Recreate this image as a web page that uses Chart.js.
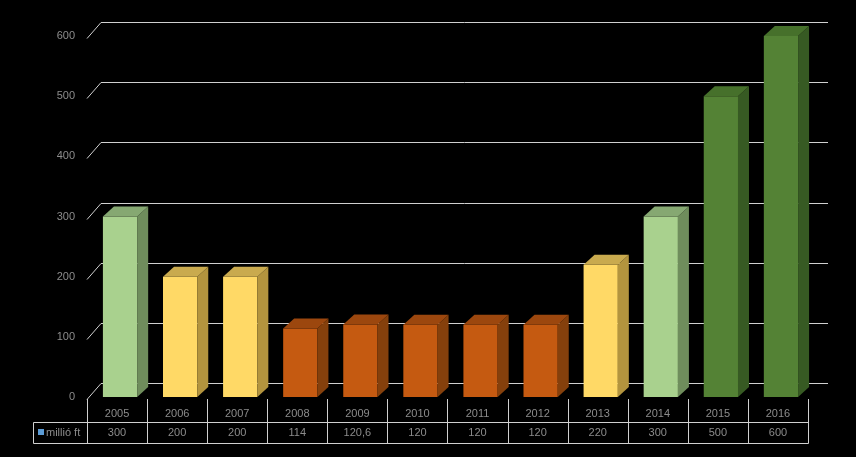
<!DOCTYPE html>
<html>
<head>
<meta charset="utf-8">
<script src="https://cdn.jsdelivr.net/npm/chart.js@4.4.1/dist/chart.umd.min.js"></script>
<style>
  html, body { margin: 0; padding: 0; background: #000; }
  #wrap { width: 856px; height: 457px; }
</style>
</head>
<body>
<div id="wrap"><canvas id="chart" width="856" height="457"></canvas></div>
<script>
// adatok
const years = ["2005", "2006", "2007", "2008", "2009", "2010", "2011", "2012", "2013", "2014", "2015", "2016"];
const values = [300, 200, 200, 114, 120.6, 120, 120, 120, 220, 300, 500, 600];
const seriesName = "millió ft";
const yTicks = [0, 100, 200, 300, 400, 500, 600];

// szín csoportok (front, top, side)
const palette = {
    light:  ["#a9d18e", "#86a872", "#6f8d5c"],
    yellow: ["#ffd966", "#c9aa4e", "#b3943e"],
    orange: ["#c55a11", "#9c470e", "#85400c"],
    dark:   ["#548235", "#46702b", "#375a23"]
};
const groups = ["light", "yellow", "yellow", "orange", "orange", "orange", "orange", "orange", "yellow", "light", "dark", "dark"];

const DX = 11, DY = 10;       // bar depth
const GX = 14, GY = 14;       // back wall offset
const SHIFT = 3;              // bars sit a bit right of the table cells
const textColor = "#8c8c8c";
const lineColor = "#d0d0d0";
const font = "11px 'Liberation Sans', Arial, sans-serif";

const backGrid = {
    id: "backGrid",
    beforeDatasetsDraw(chart) {
        const ctx = chart.ctx, y = chart.scales.y, a = chart.chartArea;
        ctx.save();
        ctx.strokeStyle = lineColor;
        ctx.lineWidth = 1;
        yTicks.forEach(v => {
            const py = Math.round(y.getPixelForValue(v)) + 0.5;
            ctx.beginPath();
            ctx.moveTo(a.left, py + 2);
            ctx.lineTo(a.left + GX, py - GY);
            ctx.lineTo(a.right + 20, py - GY);
            ctx.stroke();
        });
        ctx.restore();
    },
    beforeDatasetDraw(chart) {
        chart.ctx.save();
        chart.ctx.translate(SHIFT, 0);
    },
    afterDatasetDraw(chart) {
        chart.ctx.restore();
    }
};

const bars3d = {
    id: "bars3d",
    afterDatasetsDraw(chart) {
        const ctx = chart.ctx;
        chart.getDatasetMeta(0).data.forEach((bar, i) => {
            const p = bar.getProps(["x", "y", "base", "width"], true);
            const x1 = p.x - p.width / 2 + SHIFT, x2 = p.x + p.width / 2 + SHIFT;
            const c = palette[groups[i]];
            ctx.save();
            ctx.fillStyle = c[2];
            ctx.beginPath();
            ctx.moveTo(x2, p.y);
            ctx.lineTo(x2 + DX, p.y - DY);
            ctx.lineTo(x2 + DX, p.base - DY);
            ctx.lineTo(x2, p.base);
            ctx.closePath();
            ctx.fill();
            ctx.fillStyle = c[1];
            ctx.beginPath();
            ctx.moveTo(x1, p.y);
            ctx.lineTo(x1 + DX, p.y - DY);
            ctx.lineTo(x2 + DX, p.y - DY);
            ctx.lineTo(x2, p.y);
            ctx.closePath();
            ctx.fill();
            ctx.restore();
        });
    }
};

const dataTable = {
    id: "dataTable",
    afterDraw(chart) {
        const ctx = chart.ctx, x = chart.scales.x, a = chart.chartArea;
        const top = a.bottom + 2, mid = 422.5, bottom = 443.5, left = 33.5;
        const step = x.getPixelForValue(1) - x.getPixelForValue(0);
        ctx.save();
        ctx.strokeStyle = lineColor;
        ctx.lineWidth = 1;
        ctx.beginPath();
        for (let i = 0; i <= years.length; i++) {
            const px = Math.round(x.getPixelForValue(i) - step / 2) + 0.5;
            ctx.moveTo(px, top);
            ctx.lineTo(px, bottom);
        }
        ctx.moveTo(left, mid); ctx.lineTo(a.right + 0.5, mid);
        ctx.moveTo(left, bottom); ctx.lineTo(a.right + 0.5, bottom);
        ctx.moveTo(left, mid); ctx.lineTo(left, bottom);
        ctx.stroke();

        ctx.font = font;
        ctx.fillStyle = textColor;
        ctx.textAlign = "center";
        ctx.textBaseline = "middle";
        years.forEach((yr, i) => {
            const px = x.getPixelForValue(i);
            ctx.fillText(yr, px, 414);
            ctx.fillText(String(values[i]).replace(".", ","), px, 433);
        });
        ctx.fillStyle = "#5b9bd5";
        ctx.fillRect(38, 429, 6, 6);
        ctx.fillStyle = textColor;
        ctx.textAlign = "left";
        ctx.fillText(seriesName, 46, 433);
        ctx.restore();
    }
};

new Chart(document.getElementById("chart").getContext("2d"), {
    type: "bar",
    data: {
        labels: years,
        datasets: [{
            label: seriesName,
            data: values,
            backgroundColor: groups.map(g => palette[g][0]),
            borderWidth: 0,
            categoryPercentage: 1,
            barPercentage: 0.57
        }]
    },
    options: {
        responsive: false,
        animation: false,
        layout: { padding: { left: 0, right: 48, top: 36, bottom: 60 } },
        plugins: { legend: { display: false }, tooltip: { enabled: false } },
        scales: {
            x: { display: false },
            y: {
                min: 0, max: 600,
                afterFit(scale) { scale.width = 87; },
                afterBuildTicks(scale) { scale.ticks = yTicks.map(v => ({ value: v })); },
                grid: { display: false, drawTicks: false },
                border: { display: false },
                ticks: { color: textColor, padding: 12, font: { family: "'Liberation Sans', Arial, sans-serif", size: 11 } }
            }
        }
    },
    plugins: [backGrid, bars3d, dataTable]
});
</script>
</body>
</html>
